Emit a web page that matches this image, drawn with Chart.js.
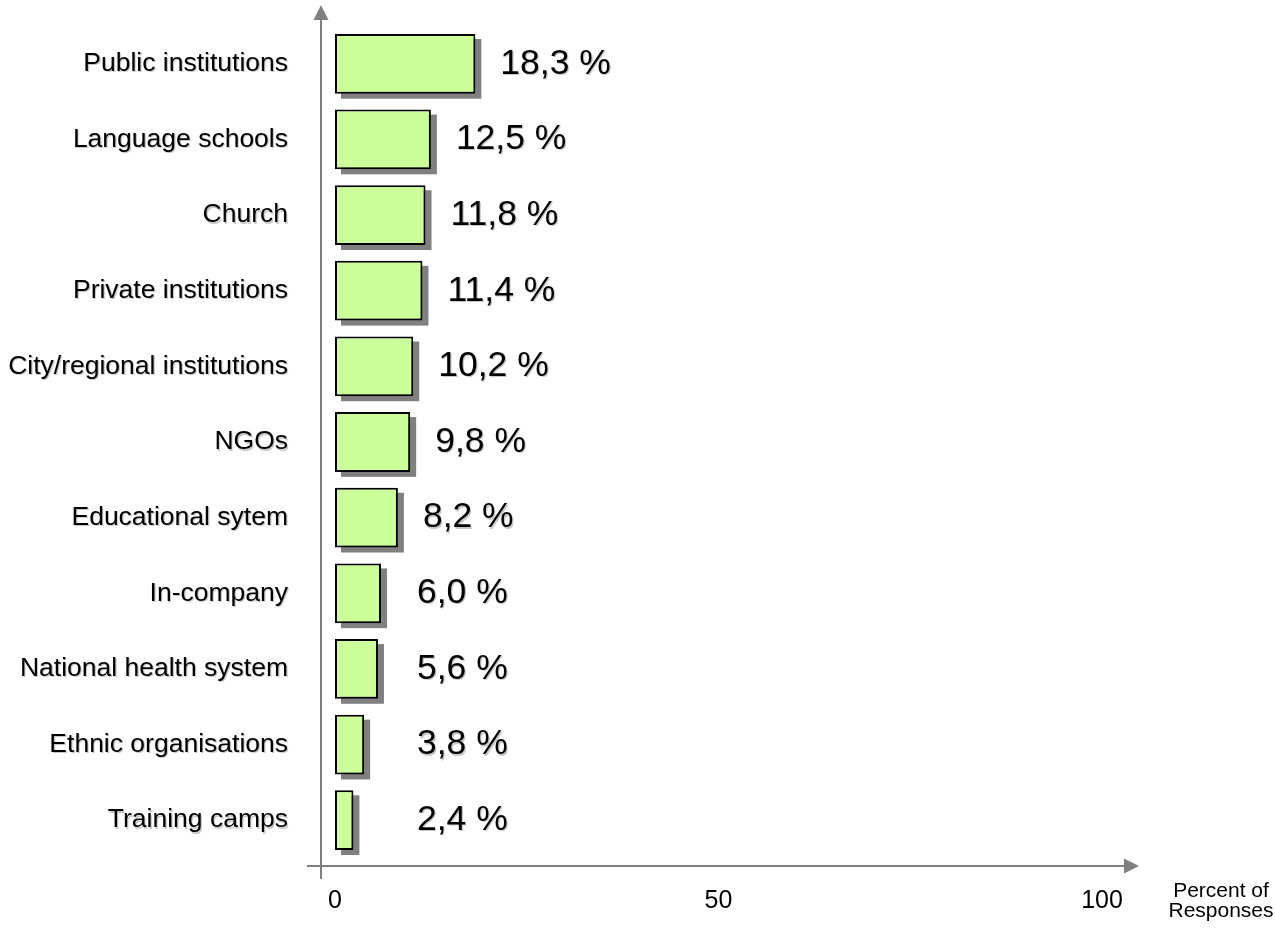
<!DOCTYPE html>
<html><head><meta charset="utf-8">
<script src="https://cdn.jsdelivr.net/npm/chart.js@4/dist/chart.umd.min.js"></script>
<style>html,body{margin:0;padding:0;background:#fff}#wrap{width:1275px;height:931px;position:relative}</style>
</head><body><div id="wrap"><canvas id="c" width="1275" height="931"></canvas></div>
<script>
const categories = ["Public institutions","Language schools","Church","Private institutions","City/regional institutions","NGOs","Educational sytem","In-company","National health system","Ethnic organisations","Training camps"];
const percentValues = [18.3,12.5,11.8,11.4,10.2,9.8,8.2,6.0,5.6,3.8,2.4];
const xTickValues = [0,50,100];
const axisTitleLines = ["Percent of","Responses"];

const FONT = "'Liberation Sans', Arial, sans-serif";
const AXIS_GREY = '#808080';
const TEXT_SHADOW = 'rgba(0,0,0,0.22)';

function fmt(v){ return v.toFixed(1).replace('.', ',') + ' %'; }

const decor = {
  id: 'decor',
  beforeDraw(chart){
    const ctx = chart.ctx;
    ctx.shadowColor = TEXT_SHADOW;
    ctx.shadowOffsetX = 1.2; ctx.shadowOffsetY = 1.2; ctx.shadowBlur = 0;
  },
  beforeDatasetsDraw(chart){
    const ctx = chart.ctx;
    ctx.shadowColor = 'rgba(0,0,0,0)';
    ctx.shadowOffsetX = 0; ctx.shadowOffsetY = 0;
    const a = chart.chartArea;
    const ax = a.left - 14, ay = a.bottom + 8;
    ctx.save();
    ctx.strokeStyle = AXIS_GREY; ctx.fillStyle = AXIS_GREY; ctx.lineWidth = 2;
    ctx.beginPath();
    ctx.moveTo(ax, a.bottom + 21); ctx.lineTo(ax, a.top - 8);
    ctx.moveTo(a.left - 28, ay); ctx.lineTo(a.right + 24, ay);
    ctx.stroke();
    ctx.beginPath();
    ctx.moveTo(ax, a.top - 21); ctx.lineTo(ax - 7.5, a.top - 6); ctx.lineTo(ax + 7.5, a.top - 6); ctx.closePath();
    ctx.fill();
    const tx = a.right + 37;
    ctx.beginPath();
    ctx.moveTo(tx, ay); ctx.lineTo(tx - 15, ay - 7.5); ctx.lineTo(tx - 15, ay + 7.5); ctx.closePath();
    ctx.fill();
    const meta = chart.getDatasetMeta(0);
    ctx.fillStyle = AXIS_GREY;
    meta.data.forEach(el => {
      const p = el.getProps(['x','y','base','height'], true);
      const l = Math.min(p.x, p.base), r = Math.max(p.x, p.base);
      ctx.fillRect(l + 6, p.y - p.height/2 + 5, r - l, p.height);
    });
    ctx.restore();
  },
  afterDatasetsDraw(chart){
    const ctx = chart.ctx;
    const a = chart.chartArea;
    const meta = chart.getDatasetMeta(0);
    ctx.save();
    ctx.font = '35.5px ' + FONT;
    ctx.fillStyle = '#000';
    ctx.textAlign = 'left'; ctx.textBaseline = 'middle';
    ctx.shadowColor = TEXT_SHADOW;
    ctx.shadowOffsetX = 1.2; ctx.shadowOffsetY = 1.2; ctx.shadowBlur = 0;
    meta.data.forEach((el, i) => {
      const p = el.getProps(['x','y'], true);
      const lx = Math.max(p.x + 25, a.left + 82);
      ctx.fillText(fmt(percentValues[i]), lx, p.y);
    });
    ctx.shadowColor = 'rgba(0,0,0,0)';
    ctx.font = '21px ' + FONT;
    ctx.textAlign = 'center'; ctx.textBaseline = 'alphabetic';
    axisTitleLines.forEach((t, i) => ctx.fillText(t, a.right + 119, a.bottom + 39 + i * 20));
    ctx.restore();
  }
};

new Chart(document.getElementById('c'), {
  type: 'bar',
  data: {
    labels: categories,
    datasets: [{
      data: percentValues,
      backgroundColor: '#CCFF99',
      borderColor: '#000000',
      borderWidth: 2,
      borderSkipped: false,
      categoryPercentage: 1,
      barPercentage: 0.79
    }]
  },
  options: {
    indexAxis: 'y',
    responsive: false,
    animation: false,
    devicePixelRatio: 1,
    layout: { padding: { left: 8, right: 173, top: 26, bottom: 15 } },
    plugins: { legend: { display: false }, tooltip: { enabled: false } },
    scales: {
      x: {
        type: 'linear', min: 0, max: 100, z: 1,
        afterBuildTicks: s => { s.ticks = xTickValues.map(v => ({ value: v })); },
        afterFit: s => { s.height = 58; s.paddingLeft = 0; s.paddingRight = 0; },
        grid: { display: false, drawTicks: false },
        border: { display: false },
        ticks: { z: 1, color: '#000', font: { family: FONT, size: 25 }, padding: 28, maxRotation: 0, autoSkip: false }
      },
      y: {
        afterFit: s => { s.width = 327; s.paddingTop = 0; s.paddingBottom = 0; },
        grid: { display: false, drawTicks: false },
        border: { display: false },
        ticks: { color: '#000', font: { family: FONT, size: 26.5 }, padding: 47, autoSkip: false }
      }
    }
  },
  plugins: [decor]
});
</script>
</body></html>
